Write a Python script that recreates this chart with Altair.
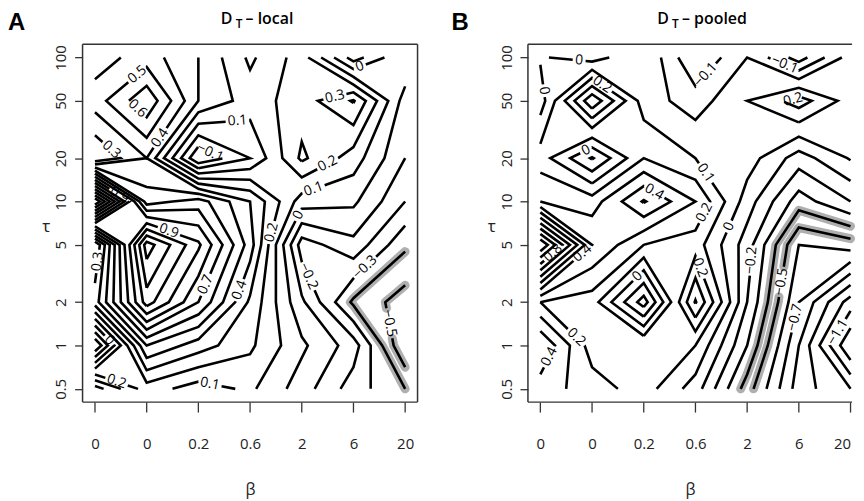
import json
from collections import defaultdict

import numpy as np
import pandas as pd
import altair as alt

# ---------------- data ----------------
beta_labels = ["0", "0", "0.2", "0.6", "2", "6", "20"]
tau_values = [0.5, 1, 2, 5, 10, 20, 50, 100]

# D_T - local : one row per tau (0.5 ... 100), one column per beta tick
local_tau_0_5 = [0.45, 0.15, 0.05, 0.12, -0.05, -0.25, -0.40]
local_tau_1 = [-0.30, 0.50, 0.35, 0.22, 0.02, -0.15, -0.60]
local_tau_2 = [0.35, 1.05, 0.70, 0.28, -0.08, -0.42, -0.55]
local_tau_5 = [0.20, 1.25, 0.92, 0.45, -0.25, -0.13, -0.38]
local_tau_10 = [1.60, 0.55, 0.65, 0.40, 0.05, 0.02, -0.20]
local_tau_20 = [0.20, 0.40, -0.20, 0.00, 0.32, 0.15, -0.10]
local_tau_50 = [0.45, 0.68, 0.30, 0.15, 0.25, 0.41, -0.05]
local_tau_100 = [0.35, 0.45, 0.30, 0.08, 0.25, -0.15, 0.10]

# D_T - pooled
pooled_tau_0_5 = [0.35, 0.25, 0.15, -0.05, -0.45, -0.85, -1.00]
pooled_tau_1 = [0.50, 0.15, 0.20, 0.10, -0.30, -0.80, -1.30]
pooled_tau_2 = [0.20, 0.15, -0.25, 0.41, -0.20, -0.70, -1.05]
pooled_tau_5 = [1.10, 0.40, 0.20, 0.15, -0.15, -0.60, -0.55]
pooled_tau_10 = [0.30, 0.25, 0.51, 0.30, -0.05, -0.35, -0.20]
pooled_tau_20 = [0.15, -0.11, 0.20, 0.10, 0.05, -0.15, 0.01]
pooled_tau_50 = [-0.05, 0.48, 0.05, -0.05, 0.10, 0.25, 0.05]
pooled_tau_100 = [0.01, -0.05, 0.10, -0.20, 0.00, -0.25, 0.05]

levels = [round(-1.5 + 0.1 * k, 1) for k in range(36)]
highlight_levels = [-0.4, -0.5]

# ---------------- geometry helpers ----------------
H = 360
PX_PER_UNIT = 52.0
ylog = np.log10(np.array(tau_values, dtype=float))
ypad = 0.04 * (ylog[-1] - ylog[0])
YL = [ylog[0] - ypad, ylog[-1] + ypad]
TAU_DOMAIN = [10 ** YL[0], 10 ** YL[1]]
FS = 14
LABEL_FONT = "Liberation Sans Narrow, Open Sans, sans-serif"
TITLE_FONT = "Open Sans, sans-serif"
LETTER_FONT = "Liberation Sans, Arial, sans-serif"


def march(Z, level):
    ny, nx = Z.shape
    above = Z > level

    def node_pos(key):
        kind, j, i = key
        if kind == "h":
            a, b = Z[j, i], Z[j, i + 1]
            t = (level - a) / (b - a)
            return (i + t, ylog[j])
        a, b = Z[j, i], Z[j + 1, i]
        t = (level - a) / (b - a)
        return (float(i), ylog[j] + t * (ylog[j + 1] - ylog[j]))

    segs = []
    for j in range(ny - 1):
        for i in range(nx - 1):
            c = [above[j, i], above[j, i + 1], above[j + 1, i + 1], above[j + 1, i]]
            edges = [("h", j, i), ("v", j, i + 1), ("h", j + 1, i), ("v", j, i)]
            cross = [k for k in range(4) if c[k] != c[(k + 1) % 4]]
            if len(cross) == 2:
                segs.append((edges[cross[0]], edges[cross[1]]))
            elif len(cross) == 4:
                center = (Z[j, i] + Z[j, i + 1] + Z[j + 1, i + 1] + Z[j + 1, i]) / 4 > level
                if center == c[0]:
                    segs += [(edges[0], edges[1]), (edges[2], edges[3])]
                else:
                    segs += [(edges[3], edges[0]), (edges[1], edges[2])]
    adj = defaultdict(list)
    for a, b in segs:
        adj[a].append(b)
        adj[b].append(a)
    used = set()

    def walk(start):
        path = [start]
        cur = start
        while True:
            nxt = None
            for n in adj[cur]:
                if frozenset((cur, n)) not in used:
                    nxt = n
                    break
            if nxt is None:
                break
            used.add(frozenset((cur, nxt)))
            path.append(nxt)
            cur = nxt
        return path

    paths = []
    for n in list(adj.keys()):
        if len(adj[n]) == 1 and any(frozenset((n, m)) not in used for m in adj[n]):
            paths.append(walk(n))
    for n in list(adj.keys()):
        if any(frozenset((n, m)) not in used for m in adj[n]):
            paths.append(walk(n))
    return [[node_pos(k) for k in p] for p in paths]


def label_text(lv):
    s = f"{lv:.1f}"
    if s.endswith(".0"):
        s = s[:-2]
    if s == "-0":
        s = "0"
    return s.replace("-", "\u2212")


def text_width(t):
    w = 0.0
    for ch in t:
        w += 0.27 if ch == "." else 0.50
    return w * FS


def interp(P, D, s, target):
    k = np.searchsorted(s, target)
    k = min(max(k, 1), len(s) - 1)
    f = (target - s[k - 1]) / max(s[k] - s[k - 1], 1e-9)
    return P[k - 1] + f * (P[k] - P[k - 1]), D[k - 1] + f * (D[k] - D[k - 1])


def build_panel(rows, key, xd):
    Z = np.array(rows, dtype=float)

    def to_px(x, yl):
        return ((x - xd[0]) * PX_PER_UNIT, (YL[1] - yl) / (YL[1] - YL[0]) * H)

    line_rows, label_rows = [], []
    placed = []
    lid = 0
    for lv in levels:
        txt = label_text(lv)
        w = text_width(txt) + 6
        for path in march(Z, lv):
            D = np.array(path)
            P = np.array([to_px(x, y) for x, y in path])
            closed = len(path) > 2 and np.allclose(D[0], D[-1])
            seg = np.hypot(*np.diff(P, axis=0).T)
            s = np.concatenate([[0], np.cumsum(seg)])
            L = s[-1]
            pieces = [D]
            if L > w + 12:
                best = None
                for s0 in np.arange(1.0, L - w - 1.0, 1.0):
                    pa, _ = interp(P, D, s, s0)
                    pb, _ = interp(P, D, s, s0 + w)
                    inside = P[(s > s0) & (s < s0 + w)]
                    ch = pb - pa
                    nrm = np.hypot(*ch)
                    if nrm < 1e-6:
                        continue
                    dev = 0.0
                    if len(inside):
                        dev = np.max(np.abs((inside[:, 0] - pa[0]) * ch[1] - (inside[:, 1] - pa[1]) * ch[0]) / nrm)
                    score = dev + 0.002 * abs(s0 + w / 2 - L / 2)
                    if best is None or score < best[0]:
                        best = (score, s0, dev)
                if best is not None and best[2] < 2.0:
                    s0 = best[1]
                    pa, da = interp(P, D, s, s0)
                    pb, db = interp(P, D, s, s0 + w)
                    c = (pa + pb) / 2
                    ok = all(np.hypot(*(c - q)) > (w + wq) / 2 + 4 for q, wq in placed)
                    if ok:
                        placed.append((c, w))
                        ang = np.degrees(np.arctan2(pb[1] - pa[1], pb[0] - pa[0]))
                        if ang > 90:
                            ang -= 180
                        if ang <= -90:
                            ang += 180
                        dc = (da + db) / 2
                        label_rows.append({"x": dc[0], "tau": 10 ** dc[1], "text": txt, "angle": ang % 360})
                        before = [D[k] for k in range(len(D)) if s[k] < s0] + [da]
                        after = [db] + [D[k] for k in range(len(D)) if s[k] > s0 + w]
                        if closed:
                            pieces = [np.array(after + before[1:])]
                        else:
                            pieces = [np.array(before), np.array(after)]
            for pc in pieces:
                if len(pc) < 2:
                    continue
                lid += 1
                for o, (x, y) in enumerate(pc):
                    line_rows.append({"lid": f"{key}{lid}", "ord": o, "x": x, "tau": 10 ** y,
                                      "hl": lv in highlight_levels})
    return pd.DataFrame(line_rows), pd.DataFrame(label_rows)


# ---------------- chart ----------------
def encodings(xd, flush_last):
    align = "center"
    if flush_last:
        align = {"condition": {"test": "datum.value >= 6", "value": "right"}, "value": "center"}
    x_enc = alt.X("x:Q", scale=alt.Scale(domain=xd, nice=False, zero=False),
                  axis=alt.Axis(values=list(range(len(beta_labels))),
                                labelExpr=json.dumps(beta_labels) + "[datum.value]",
                                title="β", grid=False, domain=False, tickSize=10, tickWidth=1.3,
                                tickColor="#333", labelPadding=25, labelFontSize=15,
                                labelAlign=align,
                                labelFont=LABEL_FONT, labelColor="#222", titleFontSize=16,
                                titleFont=TITLE_FONT, titleFontWeight="normal", titlePadding=30,
                                titleColor="#222"))
    y_enc = alt.Y("tau:Q", scale=alt.Scale(type="log", domain=TAU_DOMAIN, nice=False),
                  axis=alt.Axis(values=tau_values, format="~g", title="τ", grid=False, domain=False,
                                tickSize=8, tickWidth=1.3, tickColor="#333", labelAngle=270,
                                labelAlign="center", labelBaseline="bottom", labelPadding=6,
                                labelFontSize=15, labelFont=LABEL_FONT, labelColor="#222",
                                titleFontSize=17, titleFont=TITLE_FONT, titleFontWeight="normal",
                                titleAngle=0, titleAlign="center", titleBaseline="middle",
                                titleX=-37, titleY=183, titleColor="#222"))
    return x_enc, y_enc


one = pd.DataFrame({"a": [0]})


def ann(text, px, py, size, weight="normal", font=TITLE_FONT):
    return alt.Chart(one).mark_text(text=text, fontSize=size, fontWeight=weight, align="left",
                                    baseline="alphabetic", font=font, color="black").encode(
        x=alt.value(px), y=alt.value(py))


def frame(w, right=True):
    c = alt.Chart(one).mark_rule(color="#333", strokeWidth=1.5)
    parts = [
        c.encode(x=alt.value(0), x2=alt.value(w), y=alt.value(0)),
        c.encode(x=alt.value(0), x2=alt.value(w), y=alt.value(H)),
        c.encode(x=alt.value(0), y=alt.value(0), y2=alt.value(H)),
    ]
    if right:
        parts.append(c.encode(x=alt.value(w), y=alt.value(0), y2=alt.value(H)))
    return parts


def panel(rows, key, letter, subtitle, offs, xd, right):
    w = (xd[1] - xd[0]) * PX_PER_UNIT
    x_enc, y_enc = encodings(xd, not right)
    ldf, tdf = build_panel(rows, key, xd)
    hl = alt.Chart(ldf[ldf.hl]).mark_line(color="#a6a6a6", strokeWidth=9, strokeCap="round",
                                          strokeJoin="round", opacity=0.9).encode(
        x=x_enc, y=y_enc, detail="lid:N", order="ord:Q")
    ln = alt.Chart(ldf).mark_line(color="black", strokeWidth=2.6, strokeJoin="miter").encode(
        x=x_enc, y=y_enc, detail="lid:N", order="ord:Q")
    lab = alt.Chart(tdf).mark_text(font=LABEL_FONT, fontSize=FS, color="black", align="center",
                                   baseline="middle").encode(
        x=x_enc, y=y_enc, text="text:N", angle=alt.Angle("angle:Q", scale=None))
    lx, d0, t0, r0 = offs
    return alt.layer(
        hl, ln, lab, *frame(w, right),
        ann(letter, lx, -14, 24, "bold", LETTER_FONT),
        ann("D", d0, -20, 16, 600),
        ann("T", t0, -16, 12, 600),
        ann(subtitle, r0, -20, 16, 600),
    ).properties(width=w, height=H)


XD_A = [-0.24, 6.24]
XD_B = [-0.24, 6.03]

pA = panel([local_tau_0_5, local_tau_1, local_tau_2, local_tau_5, local_tau_10,
            local_tau_20, local_tau_50, local_tau_100], "A", "A", "\u2013 local",
           (-75, 139, 154, 164), XD_A, True)
pB = panel([pooled_tau_0_5, pooled_tau_1, pooled_tau_2, pooled_tau_5, pooled_tau_10,
            pooled_tau_20, pooled_tau_50, pooled_tau_100], "B", "B", "\u2013 pooled",
           (-77, 130, 145, 155), XD_B, False)

chart = alt.hconcat(pA, pB, spacing=33).properties(
    padding={"left": 0, "top": 2, "right": 0, "bottom": 0}
).configure_view(stroke="transparent", strokeWidth=0)

chart.save("out.html", embed_options={"renderer": "svg", "actions": False})
